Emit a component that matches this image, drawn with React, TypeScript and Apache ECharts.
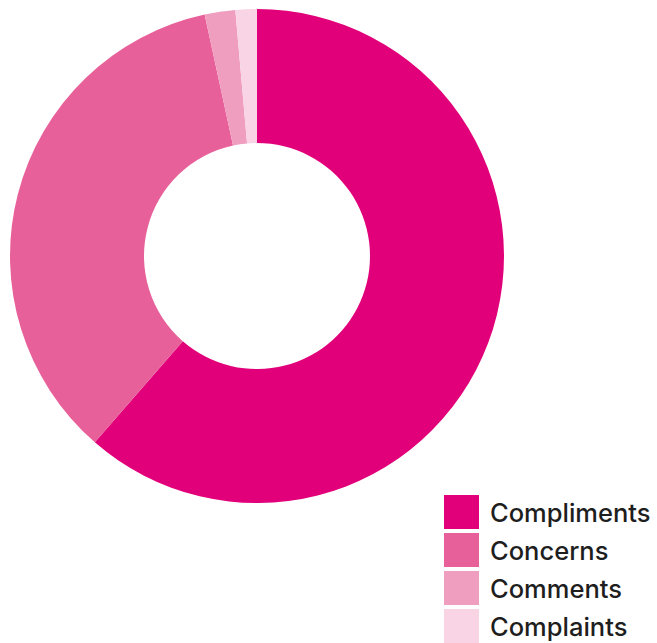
import React, { useEffect, useRef } from "react";
import * as echarts from "echarts";

const categories = ["Compliments", "Concerns", "Comments", "Complaints"];
const values = [61.4, 35.2, 2.0, 1.4];
const colors = ["#E2007A", "#E8609A", "#F09EC0", "#F8D4E4"];

export default function App() {
  const ref = useRef<HTMLDivElement>(null);
  useEffect(() => {
    if (!ref.current) return;
    const chart = echarts.init(ref.current, null, { renderer: "svg" });
    chart.setOption({
      animation: false,
      backgroundColor: "#ffffff",
      color: colors,
      legend: {
        orient: "vertical",
        left: 444,
        top: 495,
        itemWidth: 35,
        itemHeight: 34,
        itemGap: 4,
        icon: "rect",
        data: categories,
        textStyle: {
          fontFamily: "Inter",
          fontSize: 25.5,
          fontWeight: 500,
          color: "#1e1e1e",
          padding: [6, 0, 0, 6],
        },
        padding: 0,
      },
      series: [
        {
          type: "pie",
          center: [257, 256],
          radius: [113, 247],
          startAngle: 90,
          clockwise: true,
          label: { show: false },
          labelLine: { show: false },
          emphasis: { disabled: true },
          itemStyle: { borderWidth: 0 },
          data: categories.map((c, i) => ({ name: c, value: values[i] })),
        },
      ],
    });
    return () => chart.dispose();
  }, []);
  return (
    <div
      ref={ref}
      style={{ position: "fixed", left: 0, top: 0, width: 657, height: 643 }}
    />
  );
}
